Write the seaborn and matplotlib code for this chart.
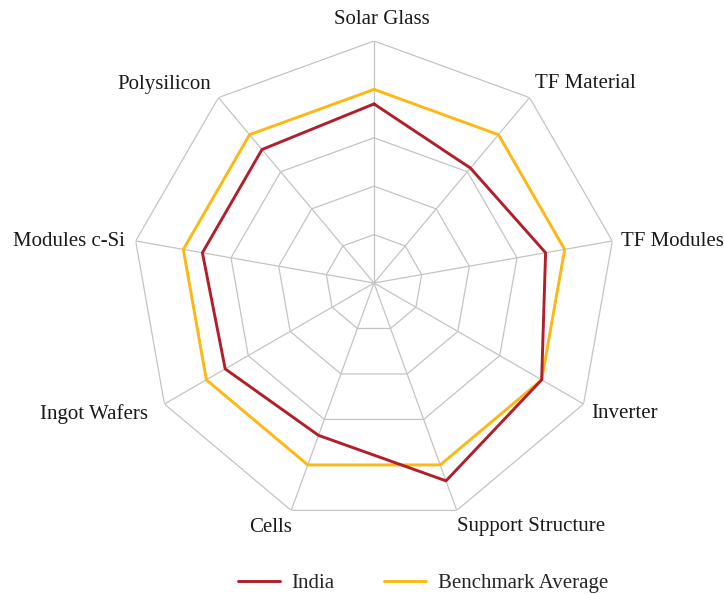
import numpy as np
import pandas as pd
import matplotlib
matplotlib.use("Agg")
import matplotlib.pyplot as plt
import seaborn as sns

categories = ["Solar Glass", "TF Material", "TF Modules", "Inverter", "Support Structure",
              "Cells", "Ingot Wafers", "Modules c-Si", "Polysilicon"]
india = [3.7, 3.1, 3.6, 4.0, 4.35, 3.35, 3.55, 3.6, 3.6]
benchmark = [4.0, 4.0, 4.0, 4.0, 4.0, 4.0, 4.0, 4.0, 4.0]
series_names = ["India", "Benchmark Average"]
ring_levels = [1, 2, 3, 4, 5]

colors = {"India": "#B01F2A", "Benchmark Average": "#FDB813"}

sns.set_theme(style="white")
plt.rcParams['font.family'] = ['Liberation Serif', 'DejaVu Serif']

W, H = 724, 594
fig = plt.figure(figsize=(W / 100, H / 100), dpi=100)
cx, cy, R = 374, 283, 242
ax = fig.add_axes([(cx - R) / W, (H - cy - R) / H, 2 * R / W, 2 * R / H], projection="polar")
ax.set_theta_zero_location("N")
ax.set_theta_direction(-1)

n = len(categories)
angles = np.linspace(0, 2 * np.pi, n, endpoint=False)
closed = np.append(angles, 2 * np.pi)

# polygon grid
grid_col = "#C4C4C4"
for r in ring_levels:
    ax.plot(closed, [r] * (n + 1), color=grid_col, lw=0.9, zorder=1)
for a in angles:
    ax.plot([a, a], [0, ring_levels[-1]], color=grid_col, lw=0.9, zorder=1)

rows = []
for name, vals in zip(series_names, [india, benchmark]):
    for t, v in zip(closed, list(vals) + [vals[0]]):
        rows.append({"theta": t, "value": v, "series": name})
df = pd.DataFrame(rows)

sns.lineplot(data=df, x="theta", y="value", hue="series", hue_order=series_names[::-1],
             palette=colors, lw=2.1, ax=ax, sort=False, estimator=None, zorder=3)

ax.set_ylim(0, ring_levels[-1])
ax.set_xticks([])
ax.set_yticks([])
ax.grid(False)
ax.spines["polar"].set_visible(False)
ax.set_xlabel("")
ax.set_ylabel("")
ax.patch.set_alpha(0)

FS = 15
# category labels (pixel positions)
label_pos = [
    (382, 20, "center"), (535, 84, "left"), (621, 241, "left"), (591, 414, "left"),
    (457, 527, "left"), (292, 527, "right"), (148, 414, "right"), (125, 241, "right"),
    (211, 84, "right"),
]
for cat, (x, y, ha) in zip(categories, label_pos):
    fig.text(x / W, 1 - y / H, cat, ha=ha, va="center", fontsize=FS, color="#1a1a1a")

handles, labels = ax.get_legend_handles_labels()
hmap = dict(zip(labels, handles))
if ax.get_legend():
    ax.get_legend().remove()
fig.legend([hmap[s] for s in series_names], series_names, loc="center",
           bbox_to_anchor=(423 / W, 1 - 583 / H), ncol=2, frameon=False,
           fontsize=FS, handlelength=2.0, handletextpad=0.55, columnspacing=2.4)

fig.savefig("out.png", dpi=100)
